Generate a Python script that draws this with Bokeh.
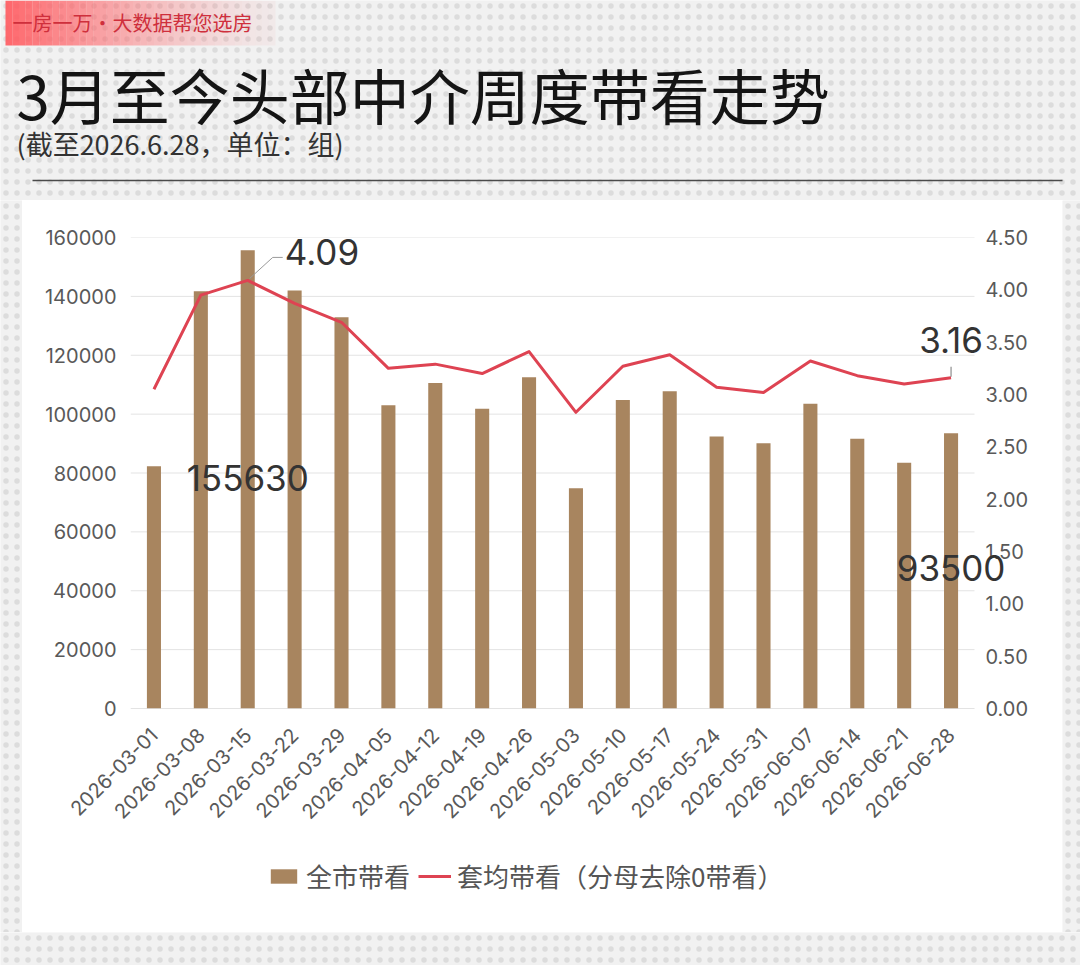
import math
from bokeh.plotting import figure
from bokeh.models import (Range1d, LinearAxis, FixedTicker, NumeralTickFormatter,
                          Label, Legend, LegendItem)
from bokeh.layouts import column, row
from bokeh.embed import file_html
from bokeh.resources import INLINE

# ---------------- data ----------------
dates = ["2026-03-01", "2026-03-08", "2026-03-15", "2026-03-22", "2026-03-29",
         "2026-04-05", "2026-04-12", "2026-04-19", "2026-04-26", "2026-05-03",
         "2026-05-10", "2026-05-17", "2026-05-24", "2026-05-31", "2026-06-07",
         "2026-06-14", "2026-06-21", "2026-06-28"]
total_views = [82300, 141700, 155630, 142000, 132900, 103000, 110600, 101800, 112500,
               74800, 104800, 107800, 92400, 90100, 103500, 91600, 83500, 93500]
avg_views = [3.05, 3.95, 4.09, 3.87, 3.69, 3.25, 3.29, 3.20, 3.41, 2.83, 3.27, 3.38,
             3.07, 3.02, 3.32, 3.18, 3.10, 3.16]
left_ticks = [0, 20000, 40000, 60000, 80000, 100000, 120000, 140000, 160000]
right_ticks = [0.0, 0.5, 1.0, 1.5, 2.0, 2.5, 3.0, 3.5, 4.0, 4.5]
series_names = ["全市带看", "套均带看（分母去除0带看）"]
banner_text = "一房一万·大数据帮您选房"
title_text = "3月至今头部中介周度带看走势"
subtitle_text = "(截至2026.6.28，单位：组)"

# ---------------- style ----------------
BG = "#f1f1f1"
DOT = "#dcdcdc"
BAR = "#a8855f"
LINE = "#de4352"
CJK = "Noto Sans CJK SC"
NUM = "Inter"


def gray_panel(w, h, x0=0, x1=None, y0=0, y1=None):
    x1 = w if x1 is None else x1
    y1 = h if y1 is None else y1
    g = figure(width=w, height=h, x_range=Range1d(x0, x1), y_range=Range1d(y0, y1),
               toolbar_location=None, output_backend="svg", tools="",
               x_axis_location=None, y_axis_location=None, min_border=0,
               outline_line_color=None, background_fill_color=BG, border_fill_color=BG)
    g.grid.visible = False
    g.quad(left=min(x0, x1), right=max(x0, x1), bottom=min(y0, y1), top=max(y0, y1),
           fill_color=BG, line_color=None,
           hatch_pattern=".", hatch_color=DOT, hatch_scale=11, hatch_weight=1)
    return g


# ---------------- header (page pixel coordinates, y downwards) ----------------
header = gray_panel(1080, 200, 0, 1080, 200, 0)
n_steps = 40
bx0, bx1 = 5, 275
for i in range(n_steps):
    t = i / (n_steps - 1)
    a = 0.85 * (1 - t) ** 1.3 + 0.05
    header.quad(left=bx0 + (bx1 - bx0) * i / n_steps, right=bx0 + (bx1 - bx0) * (i + 1) / n_steps,
                top=0, bottom=45, fill_color="#ff5a5f", fill_alpha=a, line_color=None)
header.add_layout(Label(x=12, y=22, text=banner_text, text_font=CJK, text_font_size="20px",
                        text_color="#cf2f3c", text_baseline="middle"))
header.add_layout(Label(x=16, y=93, text=title_text, text_font=CJK, text_font_size="60px",
                        text_color="#141414", text_baseline="middle"))
header.add_layout(Label(x=16, y=143, text=subtitle_text, text_font=CJK, text_font_size="27px",
                        text_color="#333333", text_baseline="middle"))
header.segment(x0=32, x1=1062, y0=180, y1=180, line_color="#4a4a4a", line_width=1.5)

# ---------------- chart ----------------
n = len(dates)
xs = list(range(n))
PX_PER_CAT = 844.0 / n          # plot area 844 px wide for the categories
FRAME_W = 932                   # frame reaches the panel edge so labels can overhang
x_end = -0.5 + FRAME_W / PX_PER_CAT

p = figure(width=1040, height=640, x_range=Range1d(-0.5, x_end),
           y_range=Range1d(0, 160000), toolbar_location=None, output_backend="svg", tools="",
           min_border_left=108, min_border_right=0, min_border_top=37, min_border_bottom=132,
           outline_line_color=None, background_fill_color="white", border_fill_color="white")
p.extra_y_ranges = {"y2": Range1d(0, 4.5)}

# horizontal grid lines over the category span only
p.segment(x0=-0.5, x1=n - 0.5, y0=left_ticks, y1=left_ticks, line_color="#e3e3e3", line_width=1)
p.segment(x0=-0.5, x1=n - 0.5, y0=0, y1=0, line_color="#d6d6d6", line_width=1)

bars = p.vbar(x=xs, top=total_views, width=0.3, fill_color=BAR, line_color=None)
line = p.line(x=xs, y=avg_views, y_range_name="y2", line_color=LINE, line_width=3,
              line_join="round")

# axes
p.yaxis.ticker = FixedTicker(ticks=left_ticks)
p.yaxis.formatter = NumeralTickFormatter(format="0")
p.xaxis.ticker = FixedTicker(ticks=xs)
p.xaxis.major_label_overrides = {i: d for i, d in enumerate(dates)}
p.xaxis.major_label_orientation = math.pi / 4

r_axis = LinearAxis(y_range_name="y2", ticker=FixedTicker(ticks=right_ticks),
                    formatter=NumeralTickFormatter(format="0.00"))
p.add_layout(r_axis, "right")

for ax in p.axis:
    ax.major_tick_line_color = None
    ax.minor_tick_line_color = None
    ax.major_tick_out = 0
    ax.minor_tick_out = 0
    ax.major_label_text_font = NUM
    ax.major_label_text_font_size = "20px"
    ax.major_label_text_color = "#595959"
    ax.axis_line_color = None
p.yaxis[0].major_label_standoff = 14
r_axis.major_label_standoff = -(FRAME_W - 844) + 11
p.xaxis.major_label_standoff = 23

p.grid.visible = False

# data labels
i_max = total_views.index(max(total_views))
i_last = n - 1
p.add_layout(Label(x=i_max, y=total_views[i_max], text=str(total_views[i_max]),
                   text_font=NUM, text_font_size="35px", text_color="#333333",
                   text_align="center", text_baseline="middle", y_offset=-228))
p.add_layout(Label(x=i_max, y=avg_views[i_max], y_range_name="y2",
                   text=f"{avg_views[i_max]:.2f}", text_font=NUM, text_font_size="35px",
                   text_color="#333333", text_align="left", text_baseline="middle",
                   x_offset=37, y_offset=28))
p.add_layout(Label(x=i_last, y=total_views[i_last], text=str(total_views[i_last]),
                   text_font=NUM, text_font_size="35px", text_color="#333333",
                   text_align="center", text_baseline="middle", y_offset=-135))
p.add_layout(Label(x=i_last, y=avg_views[i_last], y_range_name="y2",
                   text=f"{avg_views[i_last]:.2f}", text_font=NUM, text_font_size="35px",
                   text_color="#333333", text_align="center", text_baseline="middle",
                   y_offset=38))
# leader lines (pixel offsets converted to data units)
dx = 1.0 / PX_PER_CAT
dy = 4.5 / 471.0
p.line(x=[i_max + 2 * dx, i_max + 25 * dx, i_max + 35 * dx],
       y=[avg_views[i_max] + 2 * dy, avg_views[i_max] + 23 * dy, avg_views[i_max] + 23 * dy],
       y_range_name="y2", line_color="#9a9a9a", line_width=1)
p.line(x=[i_last, i_last], y=[avg_views[i_last] + 1 * dy, avg_views[i_last] + 11 * dy],
       y_range_name="y2", line_color="#777777", line_width=1)

# ---------------- legend (own white strip below the axis labels) ----------------
# the strip's ranges lie far from the data, so only the legend swatches show
lf = figure(width=1040, height=92, x_range=Range1d(-1000, -999), y_range=Range1d(-1000, -999),
            toolbar_location=None, output_backend="svg", tools="",
            x_axis_location=None, y_axis_location=None, min_border=0,
            outline_line_color=None, background_fill_color="white", border_fill_color="white")
lf.grid.visible = False
lg_bars = lf.vbar(x=xs, top=total_views, width=0.3, fill_color=BAR, line_color=None)
lg_line = lf.line(x=xs, y=avg_views, line_color=LINE, line_width=3)
legend = Legend(items=[LegendItem(label=series_names[0], renderers=[lg_bars]),
                       LegendItem(label=series_names[1], renderers=[lg_line])],
                orientation="horizontal", location=(137, 38),
                label_text_font=CJK, label_text_font_size="26px", label_text_color="#555555",
                glyph_width=33, glyph_height=18, label_standoff=6, spacing=8,
                border_line_color=None, background_fill_alpha=0, padding=10, margin=0)
lf.add_layout(legend)

# ---------------- layout ----------------
left_strip = gray_panel(22, 732)
right_strip = gray_panel(18, 732)
bottom_strip = gray_panel(1080, 33)

layout = column(header, row(left_strip, column(p, lf), right_strip), bottom_strip)

open("out.html", "w").write(file_html(layout, INLINE))
